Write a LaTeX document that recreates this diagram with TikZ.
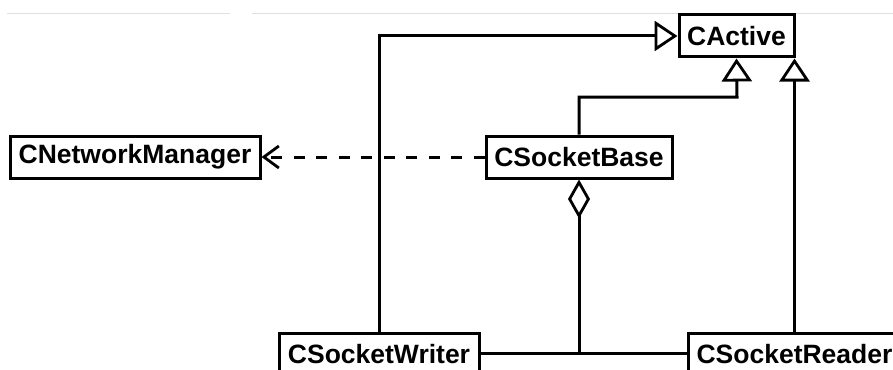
\documentclass[tikz,border=0pt]{standalone}
\usepackage{fontspec}
\setmainfont{Liberation Sans}
\usetikzlibrary{arrows.meta}
\begin{document}
\begin{tikzpicture}[x=1pt,y=-1pt,
  cls/.style={draw, line width=3pt, fill=white, inner sep=0pt, minimum height=42pt,
              font=\fontsize{26.5}{30}\selectfont\bfseries},
  wire/.style={line width=3pt},
  inherit/.style={wire, -{Triangle[open, length=23pt, width=30pt, line width=2.8pt]}},
  depend/.style={wire, dash pattern=on 11pt off 11.5pt, -{Straight Barb[length=15pt, width=22pt, line width=2.8pt]}},
  aggreg/.style={wire, {Diamond[open, length=39pt, width=22pt, line width=2.8pt]}-}]
  \useasboundingbox (0,0) rectangle (893,369);
  % faint rule across the top
  \draw[line width=1pt, black!12] (7,14) -- (230,14);
  \draw[line width=1pt, black!12] (252,14) -- (893,14);

  % classes
  \node[cls, minimum width=115pt] (act)  at (736.5,36) {CActive};
  \node[cls, minimum width=186pt] (base) at (579,157) {CSocketBase};
  \node[cls, minimum width=250pt] (net)  at (135,157) {CNetworkManager};
  \node[cls, minimum width=200pt] (wri)  at (379,354) {CSocketWriter};
  \node[cls, minimum width=213pt] (rea)  at (794.5,354) {CSocketReader};

  % generalisations
  \draw[inherit] (wri.north) |- (act.west);
  \coordinate (bend) at (737,97);
  \draw[inherit] (base.north) |- (bend) -- (act.south);
  \draw[inherit] (rea.north) -- (rea.north |- act.south);

  % dependency
  \draw[depend] (base.west) -- (net.east);

  % aggregation and the link between writer and reader
  \coordinate (join) at (base.south |- 0,353);
  \draw[aggreg] (base.south) -- (join);
  \draw[wire] (wri.east |- join) -- (rea.west |- join);
\end{tikzpicture}
\end{document}
